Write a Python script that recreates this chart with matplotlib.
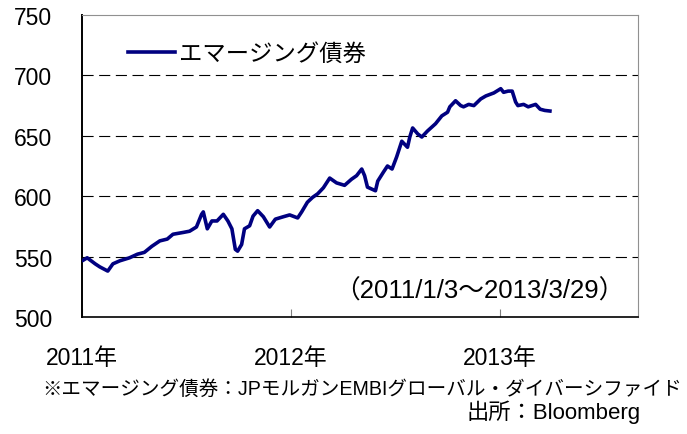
import matplotlib
matplotlib.use("Agg")
import matplotlib.pyplot as plt
import pandas as pd

plt.rcParams['font.family'] = ['Liberation Sans', 'Noto Sans CJK JP']

# EMBI Global Diversified index level
dates = [
    "2011-01-03", "2011-01-10", "2011-01-24", "2011-02-01", "2011-02-15",
    "2011-02-24", "2011-03-08", "2011-03-25", "2011-04-08", "2011-04-20",
    "2011-05-03", "2011-05-17", "2011-05-30", "2011-06-09", "2011-06-27",
    "2011-07-08", "2011-07-20", "2011-07-29", "2011-08-01", "2011-08-08",
    "2011-08-16", "2011-08-25", "2011-09-05", "2011-09-13", "2011-09-20",
    "2011-09-26", "2011-09-30", "2011-10-07", "2011-10-12", "2011-10-21",
    "2011-10-27", "2011-11-04", "2011-11-14", "2011-11-25", "2011-12-05",
    "2011-12-19", "2011-12-30", "2012-01-13", "2012-01-20", "2012-01-30",
    "2012-02-08", "2012-02-17", "2012-02-27", "2012-03-09", "2012-03-21",
    "2012-04-04", "2012-04-16", "2012-04-25", "2012-05-04", "2012-05-09",
    "2012-05-14", "2012-05-28", "2012-06-01", "2012-06-11", "2012-06-18",
    "2012-06-26", "2012-07-04", "2012-07-13", "2012-07-23", "2012-07-27",
    "2012-08-01", "2012-08-10", "2012-08-17", "2012-08-27", "2012-09-10",
    "2012-09-21", "2012-10-01", "2012-10-05", "2012-10-15", "2012-10-24",
    "2012-10-29", "2012-11-07", "2012-11-16", "2012-11-28", "2012-12-07",
    "2012-12-21", "2013-01-02", "2013-01-07", "2013-01-15", "2013-01-22",
    "2013-01-28", "2013-02-01", "2013-02-11", "2013-02-19", "2013-03-04",
    "2013-03-12", "2013-03-20", "2013-03-29",
]
values = [
    547, 549, 544, 541.5, 538,
    544, 546.5, 549, 552, 553.5,
    558.5, 563, 564.5, 568.5, 570,
    571, 574.5, 585, 587, 573,
    579.5, 579.5, 585, 579.5, 573,
    556, 554.5, 560, 573, 575.5,
    583.5, 588, 583, 574.5, 581,
    583, 584.5, 582, 587, 595,
    599, 602, 607, 615, 611,
    609, 614, 617, 622.5, 617,
    607.5, 604.5, 612.5, 620, 625,
    622.5, 632.5, 645.5, 640.5, 649,
    656.5, 651.5, 649, 654, 660,
    666.5, 669.5, 674, 679, 675,
    674, 676, 675, 680.5, 683,
    685.5, 689, 686, 687, 687,
    678, 675, 676, 674, 676,
    672, 671, 670.5,
]
series_label = "エマージング債券"
year_ticks = ["2011-01-01", "2012-01-01", "2013-01-01"]
year_labels = ["2011年", "2012年", "2013年"]
y_ticks = [500, 550, 600, 650, 700, 750]

x = pd.to_datetime(dates)

fig = plt.figure(figsize=(6.87, 4.35), dpi=100)
ax = fig.add_axes([0.1194, 0.269, 0.8093, 0.6942])

ax.plot(x, values, color="#000080", linewidth=2.6, label=series_label,
        zorder=3)

ax.set_ylim(500, 750)
ax.set_xlim(pd.Timestamp("2011-01-01"), pd.Timestamp("2013-08-30"))
ax.set_yticks(y_ticks)
ax.set_xticks(pd.to_datetime(year_ticks))
ax.set_xticklabels(year_labels)

# dashed horizontal grid, not on the top border
for v in y_ticks[1:-1]:
    ax.axhline(v, color="black", linewidth=0.8, linestyle=(0, (10, 5)),
               zorder=1)

ax.tick_params(axis="y", length=0, pad=21.5, labelsize=16.5)
ax.tick_params(axis="x", direction="in", length=6, color="#808080",
               pad=21, labelsize=16.5)

ax.spines["left"].set_color("black")
ax.spines["left"].set_linewidth(1.4)
ax.spines["bottom"].set_color("black")
ax.spines["bottom"].set_linewidth(1.2)
ax.spines["top"].set_color("#909090")
ax.spines["right"].set_color("#909090")

ax.legend(loc="upper left", bbox_to_anchor=(0.045, 0.98), frameon=False,
          fontsize=16.8, handlelength=2.0, handletextpad=0.2)

ax.text(0.975, 0.088, "（2011/1/3～2013/3/29）", transform=ax.transAxes,
        ha="right", va="center", fontsize=18.5)

fig.text(0.061, 0.106, "※エマージング債券：JPモルガンEMBIグローバル・ダイバーシファイド",
         ha="left", va="center", fontsize=14.1)
fig.text(0.932, 0.052, "出所：Bloomberg", ha="right", va="center",
         fontsize=16)

fig.savefig("out.png", dpi=100)
plt.close(fig)
